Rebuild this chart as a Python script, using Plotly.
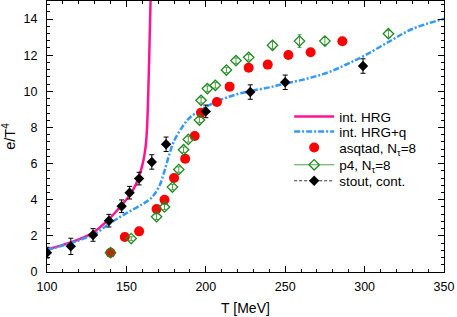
import plotly.graph_objects as go

# ---- data ----
hrg_T = [100, 110, 120, 129, 139, 146, 152, 156, 158, 160, 161.5, 162.5, 163.2, 163.8, 164.4, 165.2]
hrg_e = [1.25, 1.5, 1.8, 2.18, 2.93, 3.6, 4.24, 4.85, 5.3, 5.9, 6.55, 7.3, 8.4, 10.0, 12.0, 15.0]

hrgq_T = [100, 110, 120, 130, 140, 150, 160, 165, 168, 171, 174, 177, 180, 185, 190, 200,
          210, 220, 230, 240, 250, 260, 270, 280, 290, 300, 315, 330, 350]
hrgq_e = [1.22, 1.47, 1.75, 2.1, 2.72, 3.25, 3.75, 4.05, 4.35, 4.8, 5.6, 6.5, 7.25, 8.0, 8.55, 9.13,
          9.55, 9.85, 10.05, 10.22, 10.43, 10.62, 10.85, 11.15, 11.55, 11.98, 12.73, 13.45, 14.02]

asq_T = [140, 149, 158, 169, 174, 180, 187, 193, 197, 207, 215, 227, 239, 252, 266, 286]
asq_e = [1.07, 1.94, 2.25, 3.49, 4.0, 5.2, 6.27, 7.53, 8.82, 9.41, 10.26, 11.31, 11.48, 12.01, 12.16, 12.77]

p4_T = [140, 153, 169, 174, 179, 183, 186, 189, 196, 197, 201, 206, 213, 219, 227, 242, 259, 275, 315]
p4_e = [1.07, 1.85, 3.06, 3.6, 4.7, 5.67, 6.77, 7.34, 8.41, 9.5, 10.15, 10.33, 11.18, 11.7, 11.88,
        12.55, 12.78, 12.78, 13.19]
p4_err = [0.1, 0.1, 0.15, 0.15, 0.15, 0.15, 0.15, 0.15, 0.15, 0.15, 0.15, 0.15, 0.15, 0.15, 0.15,
          0.2, 0.35, 0.2, 0.2]

stout_T = [100, 115, 129, 139, 147, 152, 158, 166, 175, 200, 228, 250, 299]
stout_e = [1.07, 1.42, 2.05, 2.84, 3.64, 4.39, 5.17, 6.09, 7.07, 8.89, 9.96, 10.5, 11.4]
stout_err = [0.3, 0.45, 0.35, 0.35, 0.35, 0.35, 0.35, 0.4, 0.4, 0.35, 0.4, 0.4, 0.4]

x_ticks = [100, 150, 200, 250, 300, 350]
y_ticks = [0, 2, 4, 6, 8, 10, 12, 14]

PINK = "#ff1493"
BLUE = "#3399ff"
RED = "#ff0000"
GREEN = "#1f8a1f"
FONT = "Liberation Sans, Arial, Helvetica, sans-serif"

fig = go.Figure()

# data traces (no legend)
fig.add_trace(go.Scatter(x=hrg_T, y=hrg_e, mode="lines", line=dict(color=PINK, width=2.5, shape="spline"),
                         showlegend=False))
fig.add_trace(go.Scatter(x=hrgq_T, y=hrgq_e, mode="lines",
                         line=dict(color=BLUE, width=2.5, dash="6px,2px,2px,2px", shape="spline"),
                         showlegend=False))
fig.add_trace(go.Scatter(x=asq_T, y=asq_e, mode="markers", marker=dict(color=RED, size=10, symbol="circle"),
                         showlegend=False))
fig.add_trace(go.Scatter(x=p4_T, y=p4_e, mode="markers",
                         marker=dict(color=GREEN, size=8, symbol="diamond-open", line=dict(width=1.3, color=GREEN)),
                         error_y=dict(type="data", array=p4_err, color=GREEN, thickness=0.8, width=2),
                         showlegend=False))
fig.add_trace(go.Scatter(x=stout_T, y=stout_e, mode="markers",
                         marker=dict(color="black", size=8, symbol="diamond"),
                         error_y=dict(type="data", array=stout_err, color="black", thickness=1, width=2.5),
                         showlegend=False))

# legend-only entries, each in its own legend for exact row spacing
leg_defs = [
    ("int. HRG", dict(mode="lines", line=dict(color=PINK, width=2.5))),
    ("int. HRG+q", dict(mode="lines", line=dict(color=BLUE, width=2.5, dash="6px,2px,2px,2px"))),
    ("asqtad, N<sub>τ</sub>=8", dict(mode="markers", marker=dict(color=RED, size=10))),
    ("p4, N<sub>τ</sub>=8", dict(mode="lines+markers", line=dict(color=GREEN, width=0.8),
                                 marker=dict(color=GREEN, size=8, symbol="diamond-open", line=dict(width=1.3, color=GREEN)))),
    ("stout, cont.", dict(mode="lines+markers", line=dict(color="black", width=0.8, dash="3px,2px"),
                          marker=dict(color="black", size=8, symbol="diamond"))),
]
row_px = [116.7, 131.7, 147.7, 165.0, 181.0]
plot_top, plot_bot = 1, 272
for i, (name, kw) in enumerate(leg_defs):
    lname = "legend" if i == 0 else f"legend{i+1}"
    fig.add_trace(go.Scatter(x=[None], y=[None], name=name, legend=lname, showlegend=True, **kw))
    yp = (plot_bot - row_px[i]) / (plot_bot - plot_top)
    fig.update_layout({lname: dict(x=0.61, y=yp, xanchor="left", yanchor="middle",
                                   bgcolor="rgba(0,0,0,0)", borderwidth=0, itemwidth=40,
                                   font=dict(family=FONT, size=13.5, color="black"))})

axis_common = dict(showline=True, linecolor="black", linewidth=1, mirror="ticks", ticks="inside",
                   tickcolor="black", ticklen=6, tickwidth=1, showgrid=False, zeroline=False,
                   tickfont=dict(family=FONT, size=12.5, color="black"))

fig.update_xaxes(range=[100, 350], tickvals=x_ticks, ticktext=[str(v) for v in x_ticks],
                 minor=dict(dtick=10, tick0=100, ticks="inside", ticklen=3, tickcolor="black", showgrid=False),
                 title=dict(text="T [MeV]", font=dict(family=FONT, size=14, color="black"), standoff=10),
                 ticklabelstandoff=3, **axis_common)
fig.update_yaxes(range=[0, 15], tickvals=y_ticks, ticktext=[str(v) for v in y_ticks],
                 minor=dict(dtick=0.4, tick0=0, ticks="inside", ticklen=3, tickcolor="black", showgrid=False),
                 title=dict(text="e/T<sup>4</sup>", font=dict(family=FONT, size=14.5, color="black"), standoff=6),
                 ticklabelstandoff=6, **axis_common)

fig.update_layout(width=457, height=317, margin=dict(l=47, r=13, t=1, b=45, autoexpand=False),
                  plot_bgcolor="white", paper_bgcolor="white", font=dict(family=FONT, color="black"))

fig.write_html("out.html", config={"displayModeBar": False},
               post_script="document.body.style.margin='0';document.body.style.overflow='hidden';")
